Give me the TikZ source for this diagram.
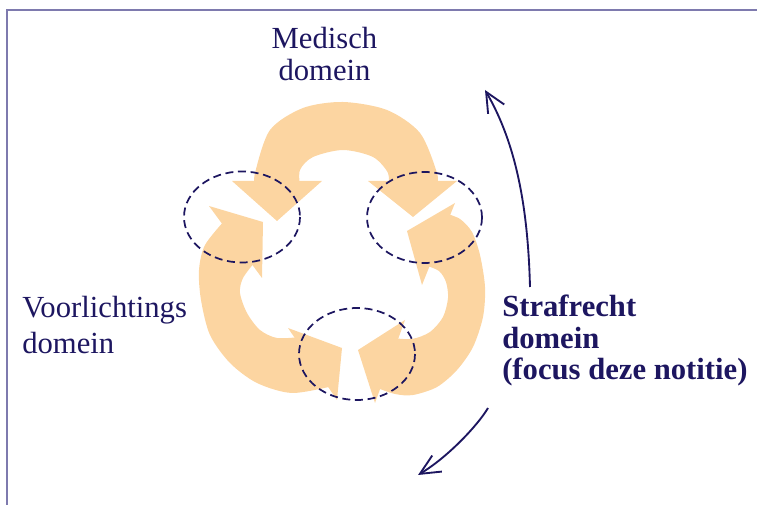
\documentclass[tikz,border=0pt]{standalone}
\usepackage{fontspec}
\setmainfont{Liberation Serif}
\usetikzlibrary{arrows.meta}
\definecolor{peach}{HTML}{FCD5A1}
\definecolor{domnavy}{HTML}{1D1660}
\definecolor{domframe}{HTML}{7E7AAE}
\tikzset{
  band/.style={fill=peach},
  ring/.style={draw=domnavy, line width=1.3pt, dash pattern=on 6pt off 3.5pt},
  domlabel/.style={text=domnavy, inner sep=0pt, font=\fontsize{23}{24}\selectfont},
  swing/.style={draw=domnavy, line width=1.4pt, -{Straight Barb[length=15pt,width=14pt]}},
}
\begin{document}
\begin{tikzpicture}[x=0.75pt, y=-0.75pt]
\useasboundingbox (0,0) rectangle (757,505);
% frame
\draw[domframe, line width=1.5pt] (7,505) -- (7,10) -- (757,10);
% the three bands
\fill[band] plot[smooth] coordinates {(255,187) (255,173) (270,130) (303,108) (343,102) (387,110) (420,133) (437,173) (437,187)}
  -- plot[smooth] coordinates {(388,187) (388,173) (373,157) (343,150) (313,157) (300,170) (300,187)} -- cycle;
\fill[band] plot[smooth] coordinates {(225,220) (205,245) (199,270) (201,300) (210,335) (230,363) (257,383) (292,393) (333,386)}
  -- plot[smooth] coordinates {(300,337) (277,338) (260,330) (247,313) (240,293) (243,278) (255,262)} -- cycle;
\fill[band] plot[smooth] coordinates {(446,213.5) (460,219) (472,232) (480,255) (485,287) (483,317) (473,347) (457,370) (437,387) (413,395) (395,394) (376,387.5)}
  -- plot[smooth] coordinates {(393,338) (412,339) (430,332) (443,317) (448,298) (446,282) (439,271) (426,265.5)} -- cycle;
% heads
\fill[band] (232,181) -- (277,221) -- (322,181) -- cycle;
\fill[band] (368,181) -- (413,217) -- (457,181) -- cycle;
\fill[band] (209,206) -- (263,222) -- (262,278) -- cycle;
\fill[band] (288,328) -- (342,348) -- (337,400) -- cycle;
\fill[band] (455,203) -- (407,231) -- (422,285) -- cycle;
\fill[band] (405,320) -- (358,350) -- (375,403) -- cycle;
% overlap zones
\draw[ring] (242,217) ellipse [x radius=58, y radius=45.5];
\draw[ring] (424.5,217.5) ellipse [x radius=57.5, y radius=45.5];
\draw[ring] (357,354) ellipse [x radius=58, y radius=46];
% labels
\node[domlabel, anchor=base, align=center] (medisch) at (324.5,81) {Medisch\\domein};
\node[domlabel, anchor=base west, align=left, font=\fontsize{23}{27}\selectfont] (voorlichting) at (22,354) {Voorlichtings\\domein};
\node[domlabel, anchor=base west, align=left, font=\fontsize{23}{23.8}\selectfont\bfseries] (strafrecht) at (502,380) {Strafrecht\\domein\\(focus deze notitie)};
% swing arrows
\coordinate (up0) at (530,287);
\coordinate (up1) at (485,90);
\draw[swing] (up0) .. controls (528,210) and (517,145) .. (up1);
\coordinate (dn0) at (488,408);
\coordinate (dn1) at (418,475);
\draw[swing] (dn0) .. controls (478,425) and (448,457) .. (dn1);
\end{tikzpicture}
\end{document}
